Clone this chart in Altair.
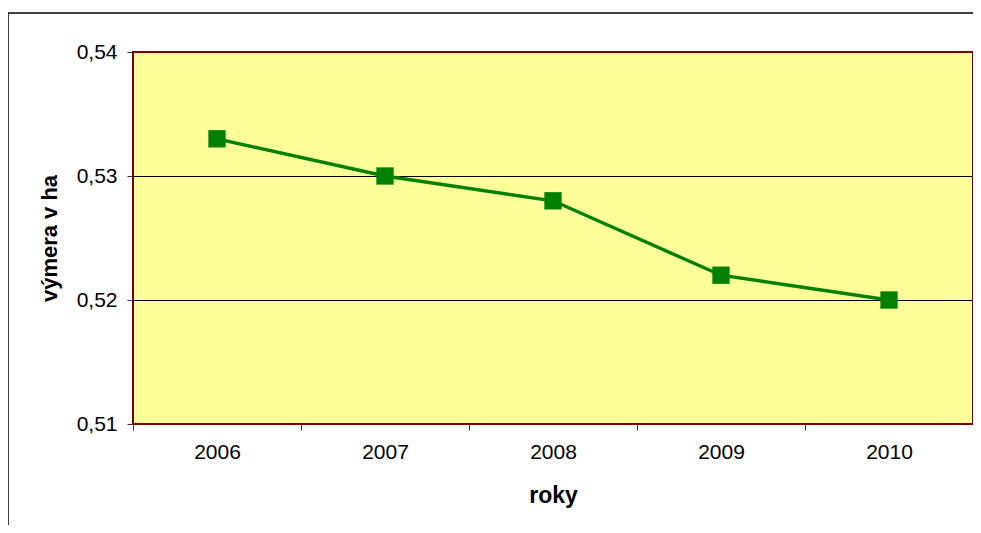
import altair as alt
import pandas as pd

years = ["2006", "2007", "2008", "2009", "2010"]
values = [0.533, 0.530, 0.528, 0.522, 0.520]
grid_values = [0.52, 0.53]
y_ticks = [0.51, 0.52, 0.53, 0.54]

df = pd.DataFrame({"rok": years, "vymera": values})
grid_df = pd.DataFrame({"g": grid_values})
one = pd.DataFrame({"a": [0]})

FONT = "Liberation Sans"

x_enc = alt.X(
    "rok:O",
    scale=alt.Scale(paddingInner=0, paddingOuter=0),
    axis=alt.Axis(
        title="roky",
        labelAngle=0,
        tickBand="extent",
        domain=False,
        ticks=True,
        tickSize=6,
        tickColor="#333333",
        labelFontSize=21,
        labelFont=FONT,
        labelColor="#000000",
        labelPadding=11,
        titleFont=FONT,
        titleFontSize=23,
        titleFontWeight="bold",
        titleColor="#000000",
        titlePadding=22,
    ),
)

y_scale = alt.Scale(domain=[0.51, 0.54], nice=False, zero=False)
y_axis = alt.Axis(
    title="výmera v ha",
    values=y_ticks,
    labelExpr="replace(format(datum.value, '.2f'), '.', ',')",
    grid=False,
    domain=False,
    tickSize=6,
    tickColor="#333333",
    labelFontSize=21,
    labelFont=FONT,
    labelColor="#000000",
    labelPadding=10,
    titleFont=FONT,
    titleFontSize=22,
    titleFontWeight="bold",
    titleColor="#000000",
    titlePadding=15,
)

grid = alt.Chart(grid_df).mark_rule(color="#000000", strokeWidth=1, yOffset=0.5).encode(
    y=alt.Y("g:Q", scale=y_scale, axis=y_axis)
)

line = alt.Chart(df).mark_line(color="#008000", strokeWidth=3.4).encode(
    x=x_enc, y=alt.Y("vymera:Q", scale=y_scale, axis=y_axis)
)
points = alt.Chart(df).mark_square(color="#008000", size=300, opacity=1).encode(
    x="rok:O", y="vymera:Q"
)

frame_top = alt.Chart(one).mark_rule(color="#000000", strokeWidth=1.5, clip=False).encode(
    x=alt.value(-125), x2=alt.value(840), y=alt.value(-39)
)
frame_left = alt.Chart(one).mark_rule(color="#000000", strokeWidth=1.5, clip=False).encode(
    x=alt.value(-125), y=alt.value(-39), y2=alt.value(480)
)

chart = (
    alt.layer(grid, line, points, frame_top, frame_left)
    .properties(
        width=840,
        height=372,
        autosize=alt.AutoSizeParams(type="none"),
        padding={"left": 125, "top": 44, "right": 0, "bottom": 101},
        background="#ffffff",
    )
    .configure_view(fill="#FFFF99", stroke="#800000", strokeWidth=2)
)

chart.save("out.html", embed_options={"renderer": "svg", "actions": False})
